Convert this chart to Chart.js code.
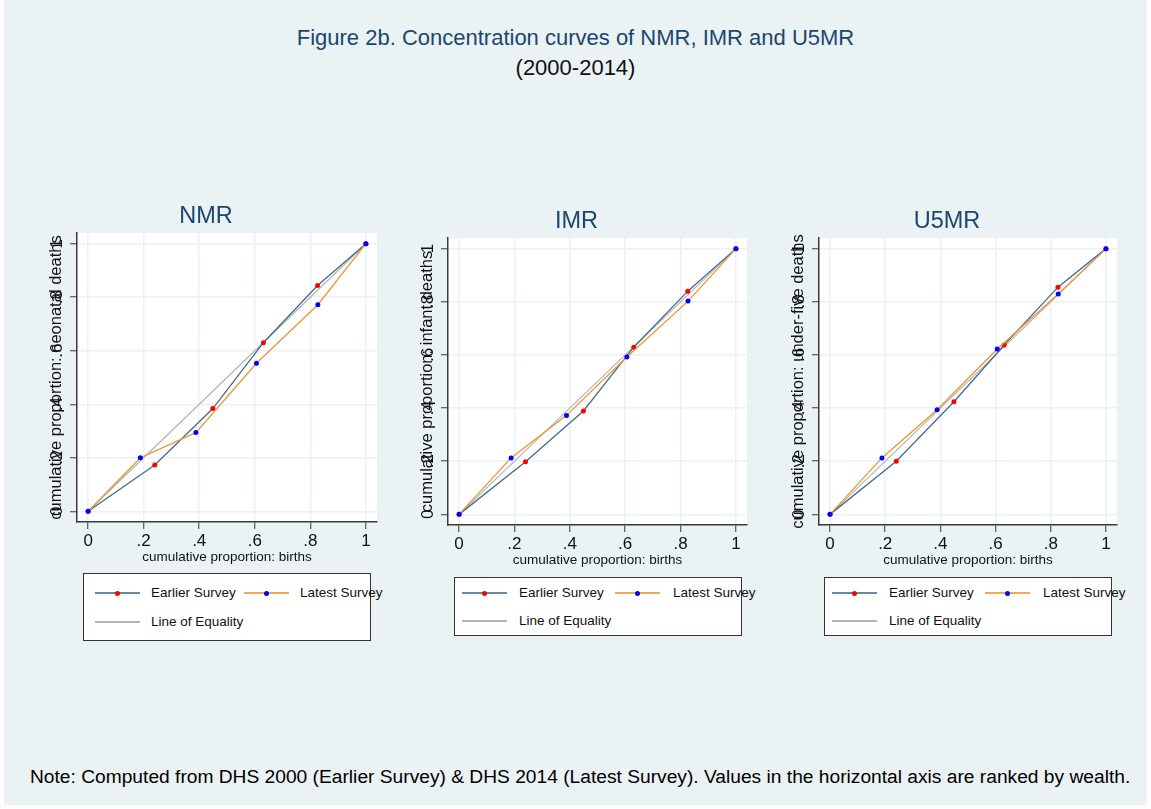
<!DOCTYPE html>
<html lang="en">
<head>
    <meta charset="UTF-8">
    <title>Figure 2b. Concentration curves</title>
    <script src="https://cdn.jsdelivr.net/npm/chart.js"></script>
    <style>
        * {
            margin: 0;
            padding: 0;
            box-sizing: border-box;
        }

        body {
            width: 1151px;
            height: 809px;
            background: #ffffff;
            font-family: 'Liberation Sans', Arial, sans-serif;
            position: relative;
            overflow: hidden;
        }

        #figure {
            position: absolute;
            left: 4px;
            top: 0;
            width: 1143px;
            height: 805px;
            background: #eaf2f3;
        }

        .title {
            position: absolute;
            left: 0;
            width: 1151px;
            text-align: center;
            font-size: 22px;
            color: #1a476f;
        }

        .panel {
            position: absolute;
        }

        .legend {
            position: absolute;
            background: #ffffff;
            border: 1px solid #333333;
            font-size: 13.5px;
            color: #111111;
        }

        .legend .sample {
            position: absolute;
            width: 45px;
            height: 2px;
            margin-top: -1px;
        }

        .legend .dot {
            position: absolute;
            left: 20px;
            top: -1.5px;
            width: 5px;
            height: 5px;
            border-radius: 50%;
        }

        .legend .label {
            position: absolute;
            white-space: nowrap;
            line-height: 16px;
            margin-top: -8px;
        }

        #note {
            position: absolute;
            left: 30px;
            top: 765px;
            font-size: 19.2px;
            line-height: 24px;
            color: #000000;
            white-space: nowrap;
        }
    </style>
</head>
<body>
    <div id="figure"></div>
    <div class="title" style="top: 25px;">Figure 2b. Concentration curves of NMR, IMR and U5MR</div>
    <div class="title" style="top: 55px; color: #111111;">(2000-2014)</div>
    <div id="note">Note: Computed from DHS 2000 (Earlier Survey) &amp; DHS 2014 (Latest Survey). Values in the horizontal axis are ranked by wealth.</div>

    <script>
        // cumulative proportion of births (ranked by wealth)
        const birthsEarlier = [0, 0.240, 0.449, 0.631, 0.826, 1];
        const birthsLatest = [0, 0.188, 0.388, 0.606, 0.827, 1];

        // cumulative proportion of deaths
        const nmrEarlier = [0, 0.173, 0.384, 0.630, 0.844, 1];
        const nmrLatest = [0, 0.200, 0.294, 0.553, 0.772, 1];
        const imrEarlier = [0, 0.198, 0.389, 0.629, 0.840, 1];
        const imrLatest = [0, 0.2125, 0.3725, 0.5925, 0.8025, 1];
        const u5mrEarlier = [0, 0.200, 0.424, 0.6375, 0.855, 1];
        const u5mrLatest = [0, 0.2125, 0.394, 0.6225, 0.829, 1];

        const equalityLine = [0, 1];
        const axisTicks = [0, 0.2, 0.4, 0.6, 0.8, 1];
        const tickLabels = ['0', '.2', '.4', '.6', '.8', '1'];

        const seriesNames = ['Earlier Survey', 'Latest Survey', 'Line of Equality'];

        const colors = {
            earlier: '#456b8f',
            latest: '#ec9632',
            equality: '#b4b4b4',
            earlierSample: '#6a86a3',
            latestSample: '#f0aa5c',
            earlierDot: '#ff0000',
            latestDot: '#0000ff',
            grid: '#eaf2f3',
            axis: '#3a3a3a',
            title: '#1a476f'
        };

        Chart.defaults.font.family = "'Liberation Sans', Arial, sans-serif";
        Chart.defaults.color = '#111111';

        const panels = [
            {
                title: 'NMR', yTitle: 'cumulative proportion: neonatal deaths',
                earlier: nmrEarlier, latest: nmrLatest,
                box: { left: 35, top: 200, w: 350, h: 367 },
                legend: { left: 83, top: 573, w: 288, h: 68, r1: 20, r2: 49, s1: 12, t1: 68, s2: 161, t2: 217 }
            },
            {
                title: 'IMR', yTitle: 'cumulative proportion: infant deaths',
                earlier: imrEarlier, latest: imrLatest,
                box: { left: 406, top: 205, w: 349, h: 365 },
                legend: { left: 454, top: 577, w: 288, h: 59, r1: 16, r2: 44, s1: 8, t1: 65, s2: 161, t2: 219 }
            },
            {
                title: 'U5MR', yTitle: 'cumulative proportion: under-five deaths',
                earlier: u5mrEarlier, latest: u5mrLatest,
                box: { left: 777, top: 205, w: 348, h: 365 },
                legend: { left: 824, top: 577, w: 288, h: 59, r1: 16, r2: 44, s1: 8, t1: 65, s2: 161, t2: 219 }
            }
        ];

        // white plot region
        const plotBackground = {
            id: 'plotBackground',
            beforeDraw(chart) {
                const { ctx, chartArea } = chart;
                ctx.save();
                ctx.fillStyle = '#ffffff';
                ctx.fillRect(chartArea.left, chartArea.top, chartArea.right - chartArea.left, chartArea.bottom - chartArea.top);
                ctx.restore();
            }
        };

        function toPoints(xs, ys) {
            return xs.map((x, i) => ({ x: x, y: ys[i] }));
        }

        function formatTick(value) {
            const i = axisTicks.findIndex(t => Math.abs(t - value) < 1e-6);
            return i >= 0 ? tickLabels[i] : '';
        }

        function axisOptions(title, isY) {
            return {
                type: 'linear',
                min: -0.04,
                max: 1.04,
                ticks: {
                    stepSize: 0.2,
                    includeBounds: false,
                    autoSkip: false,
                    callback: formatTick,
                    font: { size: 17 },
                    color: '#111111',
                    padding: isY ? 6 : 2.5,
                    minRotation: isY ? 90 : 0,
                    maxRotation: isY ? 90 : 0,
                    crossAlign: isY ? 'center' : 'near'
                },
                grid: {
                    color: colors.grid,
                    lineWidth: 1.5,
                    drawTicks: true,
                    tickLength: 7,
                    tickColor: colors.axis,
                    tickWidth: 1
                },
                border: { display: true, color: colors.axis, width: 1.5 },
                title: {
                    display: true,
                    text: title,
                    color: '#111111',
                    font: { size: isY ? 16.5 : 13.5 },
                    padding: isY ? { top: 11.4, bottom: 0 } : { top: 0, bottom: 1.5 }
                },
                afterFit(scale) {
                    if (isY) {
                        scale.width = 42;
                    } else {
                        scale.height = 45;
                    }
                }
            };
        }

        function addLegend(cfg) {
            const lg = document.createElement('div');
            lg.className = 'legend';
            lg.style.left = cfg.left + 'px';
            lg.style.top = cfg.top + 'px';
            lg.style.width = cfg.w + 'px';
            lg.style.height = cfg.h + 'px';

            const items = [
                { name: seriesNames[0], line: colors.earlierSample, dot: colors.earlierDot, x: cfg.s1, tx: cfg.t1, y: cfg.r1 },
                { name: seriesNames[1], line: colors.latestSample, dot: colors.latestDot, x: cfg.s2, tx: cfg.t2, y: cfg.r1 },
                { name: seriesNames[2], line: colors.equality, dot: null, x: cfg.s1, tx: cfg.t1, y: cfg.r2 }
            ];

            for (const item of items) {
                const sample = document.createElement('div');
                sample.className = 'sample';
                sample.style.left = (item.x - 1) + 'px';
                sample.style.top = (item.y - 1) + 'px';
                sample.style.background = item.line;
                if (item.dot) {
                    const dot = document.createElement('div');
                    dot.className = 'dot';
                    dot.style.background = item.dot;
                    sample.appendChild(dot);
                }
                lg.appendChild(sample);

                const label = document.createElement('div');
                label.className = 'label';
                label.style.left = (item.tx - 1) + 'px';
                label.style.top = (item.y - 1) + 'px';
                label.textContent = item.name;
                lg.appendChild(label);
            }
            document.body.appendChild(lg);
        }

        for (const p of panels) {
            const wrap = document.createElement('div');
            wrap.className = 'panel';
            wrap.style.left = p.box.left + 'px';
            wrap.style.top = p.box.top + 'px';
            wrap.style.width = p.box.w + 'px';
            wrap.style.height = p.box.h + 'px';
            const canvas = document.createElement('canvas');
            canvas.width = p.box.w;
            canvas.height = p.box.h;
            wrap.appendChild(canvas);
            document.body.appendChild(wrap);

            new Chart(canvas.getContext('2d'), {
                type: 'scatter',
                data: {
                    datasets: [
                        {
                            label: seriesNames[1],
                            data: toPoints(birthsLatest, p.latest),
                            showLine: true,
                            borderColor: colors.latest,
                            borderWidth: 1.3,
                            pointRadius: 2.5,
                            pointBorderWidth: 0,
                            pointBackgroundColor: colors.latestDot,
                            order: 0
                        },
                        {
                            label: seriesNames[0],
                            data: toPoints(birthsEarlier, p.earlier),
                            showLine: true,
                            borderColor: colors.earlier,
                            borderWidth: 1.3,
                            pointRadius: 2.5,
                            pointBorderWidth: 0,
                            pointBackgroundColor: colors.earlierDot,
                            order: 1
                        },
                        {
                            label: seriesNames[2],
                            data: toPoints(equalityLine, equalityLine),
                            showLine: true,
                            borderColor: colors.equality,
                            borderWidth: 1.2,
                            pointRadius: 0,
                            order: 2
                        }
                    ]
                },
                options: {
                    responsive: false,
                    animation: false,
                    devicePixelRatio: 1,
                    layout: { padding: { left: 0, right: 8, top: 0, bottom: 0 } },
                    plugins: {
                        legend: { display: false },
                        tooltip: { enabled: false },
                        title: {
                            display: true,
                            text: p.title,
                            color: colors.title,
                            font: { size: 23.5, weight: 'normal' },
                            padding: { top: 2.9, bottom: 1.9 }
                        }
                    },
                    scales: {
                        x: axisOptions('cumulative proportion: births', false),
                        y: axisOptions(p.yTitle, true)
                    }
                },
                plugins: [plotBackground]
            });

            addLegend(p.legend);
        }
    </script>
</body>
</html>
